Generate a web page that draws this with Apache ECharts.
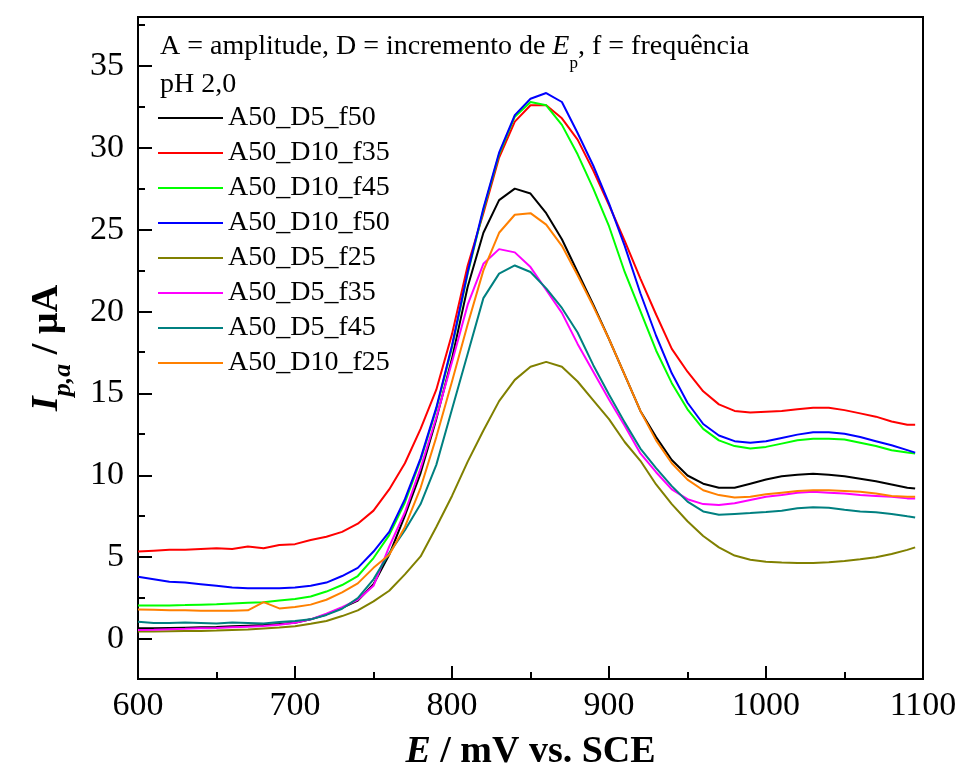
<!DOCTYPE html>
<html>
<head>
<meta charset="utf-8">
<script src="https://cdn.jsdelivr.net/npm/echarts@6/dist/echarts.min.js"></script>
<style>html,body{margin:0;padding:0;background:#fff}#c{width:962px;height:776px}</style>
</head>
<body>
<div id="c"></div>
<script>
const potential = [600,610,620,630,640,650,660,670,680,690,700,710,720,730,740,750,760,770,780,790,800,810,820,830,840,850,860,870,880,890,900,910,920,930,940,950,960,970,980,990,1000,1010,1020,1030,1040,1050,1060,1070,1080,1090,1095];

const A50_D5_f50  = [0.6,0.6,0.62,0.64,0.66,0.68,0.72,0.76,0.8,0.86,0.94,1.15,1.45,1.85,2.3,3.3,5.1,7.5,10.1,13.4,17.1,21.5,24.8,26.8,27.5,27.2,26.0,24.4,22.4,20.4,18.3,16.1,13.9,12.3,10.9,9.95,9.45,9.2,9.2,9.45,9.7,9.9,10.0,10.05,10.0,9.9,9.75,9.6,9.4,9.2,9.15];
const A50_D10_f35 = [5.3,5.35,5.4,5.4,5.45,5.5,5.45,5.6,5.5,5.7,5.75,6.0,6.2,6.5,7.0,7.8,9.1,10.7,12.8,15.2,18.6,22.8,26.0,29.4,31.6,32.6,32.6,31.8,30.5,28.6,26.5,24.3,22.0,19.8,17.7,16.3,15.1,14.3,13.9,13.8,13.85,13.9,14.0,14.1,14.1,13.95,13.75,13.55,13.25,13.05,13.05];
const A50_D10_f45 = [2.0,2.0,2.0,2.02,2.05,2.08,2.12,2.16,2.2,2.3,2.4,2.55,2.85,3.25,3.8,4.9,6.3,8.3,10.9,14.0,17.8,22.3,26.2,29.6,31.9,32.8,32.6,31.4,29.6,27.5,25.2,22.4,20.0,17.6,15.6,14.0,12.8,12.1,11.75,11.6,11.7,11.9,12.1,12.2,12.2,12.15,11.95,11.75,11.5,11.35,11.3];
const A50_D10_f50 = [3.75,3.6,3.45,3.4,3.3,3.2,3.1,3.05,3.05,3.05,3.1,3.2,3.4,3.8,4.3,5.3,6.5,8.5,11.0,14.1,17.9,22.4,26.3,29.7,32.0,33.0,33.35,32.8,30.9,28.9,26.6,24.0,21.1,18.5,16.2,14.4,13.1,12.4,12.05,11.95,12.05,12.25,12.45,12.6,12.6,12.5,12.3,12.05,11.8,11.5,11.35];
const A50_D5_f25  = [0.4,0.4,0.42,0.43,0.44,0.46,0.5,0.53,0.59,0.65,0.73,0.88,1.05,1.35,1.7,2.25,2.9,3.9,5.0,6.8,8.7,10.8,12.7,14.5,15.8,16.6,16.9,16.6,15.7,14.55,13.4,12.0,10.85,9.4,8.2,7.15,6.25,5.55,5.05,4.8,4.67,4.62,4.6,4.6,4.65,4.72,4.82,4.95,5.15,5.4,5.55];
const A50_D5_f35  = [0.5,0.52,0.55,0.57,0.6,0.62,0.66,0.7,0.74,0.82,0.94,1.15,1.5,1.9,2.35,3.2,5.6,7.7,10.4,13.5,16.9,20.4,22.9,23.8,23.6,22.7,21.3,19.9,18.0,16.3,14.6,13.0,11.3,10.15,9.1,8.5,8.2,8.15,8.25,8.45,8.65,8.75,8.9,8.95,8.9,8.85,8.75,8.7,8.65,8.55,8.55];
const A50_D5_f45  = [1.0,0.92,0.92,0.95,0.93,0.9,0.96,0.93,0.9,0.98,1.05,1.15,1.42,1.8,2.45,3.6,5.2,6.6,8.2,10.6,14.0,17.4,20.8,22.3,22.8,22.4,21.4,20.2,18.7,16.7,14.9,13.2,11.6,10.4,9.3,8.35,7.75,7.55,7.6,7.65,7.72,7.8,7.95,8.0,7.97,7.85,7.75,7.7,7.6,7.45,7.38];
const A50_D10_f25 = [1.75,1.73,1.71,1.7,1.68,1.67,1.68,1.7,2.2,1.82,1.9,2.05,2.35,2.8,3.35,4.3,5.1,6.8,9.2,12.3,15.7,19.2,22.5,24.8,25.9,26.0,25.3,24.0,22.2,20.3,18.3,16.1,13.9,12.1,10.7,9.7,9.05,8.75,8.6,8.65,8.8,8.9,9.0,9.05,9.05,9.0,8.95,8.85,8.7,8.65,8.65];

const seriesNames = ['A50_D5_f50','A50_D10_f35','A50_D10_f45','A50_D10_f50','A50_D5_f25','A50_D5_f35','A50_D5_f45','A50_D10_f25'];
const seriesValues = [A50_D5_f50,A50_D10_f35,A50_D10_f45,A50_D10_f50,A50_D5_f25,A50_D5_f35,A50_D5_f45,A50_D10_f25];
const seriesColors = ['#000000','#ff0000','#00ff00','#0000ff','#808000','#ff00ff','#008080','#ff8000'];

const xTicks = [600,700,800,900,1000,1100];
const yLabelMin = 0, yLabelMax = 35;

const FONT = 'Liberation Serif';
const gridLeft = 138, gridRight = 39, gridTop = 17, gridH = 663;
const yMin = -2.5, yMax = 38;
const ppu = gridH / (yMax - yMin);

const chart = echarts.init(document.getElementById('c'), null, {renderer:'canvas'});

const series = seriesNames.map((n,i)=>({
  name:n, type:'line', xAxisIndex:0, yAxisIndex:0,
  data: potential.map((e,k)=>[e, seriesValues[i][k]]),
  symbol:'none', showSymbol:false, lineStyle:{width:2, color:seriesColors[i]}, itemStyle:{color:seriesColors[i]},
  animation:false, z: 3
}));

chart.setOption({
  backgroundColor:'#fff',
  animation:false,
  title:{
    left:160, top:28, padding:0,
    text:'{t|A = amplitude, D = incremento de }{i|E}{s|p}{t|, f = frequência}\n{t|pH 2,0}',
    textStyle:{
      fontWeight:'normal',
      rich:{
        t:{fontFamily:FONT, fontSize:28, fontWeight:'normal', color:'#000', lineHeight:38},
        i:{fontFamily:FONT, fontSize:28, fontWeight:'normal', fontStyle:'italic', color:'#000', lineHeight:38},
        s:{fontFamily:FONT, fontSize:17, fontWeight:'normal', color:'#000', lineHeight:17, verticalAlign:'bottom', padding:[0,0,-6,0]}
      }
    }
  },
  legend:{
    orient:'vertical', left:158, top:104, padding:0,
    icon:'rect', itemWidth:65, itemHeight:2, itemGap:7,
    data: seriesNames,
    textStyle:{fontFamily:FONT, fontSize:28, color:'#000', lineHeight:28}
  },
  grid:[
    {left:gridLeft, right:gridRight, top:gridTop, height:gridH, show:true, borderColor:'#000', borderWidth:2, backgroundColor:'transparent'},
    {left:gridLeft, right:gridRight, top:gridTop + (yMax - yLabelMax)*ppu, height:(yLabelMax - yLabelMin)*ppu, show:false}
  ],
  xAxis:[
    {type:'value', gridIndex:0, min:xTicks[0], max:xTicks[xTicks.length-1], interval:100,
     axisLine:{show:true, onZero:false, lineStyle:{color:'#000', width:2}},
     axisTick:{show:true, inside:true, length:13, lineStyle:{color:'#000', width:2}},
     minorTick:{show:true, splitNumber:2, length:7, lineStyle:{color:'#000', width:2}},
     splitLine:{show:false}, minorSplitLine:{show:false},
     axisLabel:{fontFamily:FONT, fontSize:34, color:'#000', margin:10, formatter:(v)=>String(v)},
     name:'{bi|E}{b| / mV vs. SCE}', nameLocation:'middle', nameGap:54,
     nameTextStyle:{rich:{
       bi:{fontFamily:FONT, fontSize:38, fontWeight:'bold', fontStyle:'italic', color:'#000'},
       b:{fontFamily:FONT, fontSize:38, fontWeight:'bold', color:'#000'}
     }}
    },
    {type:'value', gridIndex:1, min:xTicks[0], max:xTicks[xTicks.length-1], show:false,
     axisLine:{show:false, onZero:false}, axisTick:{show:false}, axisLabel:{show:false}, splitLine:{show:false}}
  ],
  yAxis:[
    {type:'value', gridIndex:0, min:yMin, max:yMax, interval:5,
     axisLine:{show:true, onZero:false, lineStyle:{color:'#000', width:2}},
     axisTick:{show:true, inside:true, length:7, lineStyle:{color:'#000', width:2}},
     splitLine:{show:false},
     axisLabel:{show:false},
     name:'{bi|I}{sb|p,a}{b| / µA}', nameLocation:'middle', nameGap:72,
     nameTextStyle:{rich:{
       bi:{fontFamily:FONT, fontSize:38, fontWeight:'bold', fontStyle:'italic', color:'#000'},
       sb:{fontFamily:FONT, fontSize:26, fontWeight:'bold', fontStyle:'italic', color:'#000', verticalAlign:'bottom', padding:[0,0,-10,0]},
       b:{fontFamily:FONT, fontSize:38, fontWeight:'bold', color:'#000'}
     }}
    },
    {type:'value', gridIndex:1, min:yLabelMin, max:yLabelMax, interval:5,
     axisLine:{show:false, onZero:false},
     axisTick:{show:true, inside:true, length:14, lineStyle:{color:'#000', width:2}},
     splitLine:{show:false},
     axisLabel:{fontFamily:FONT, fontSize:34, color:'#000', margin:14}
    }
  ],
  series: series
});
</script>
</body>
</html>
